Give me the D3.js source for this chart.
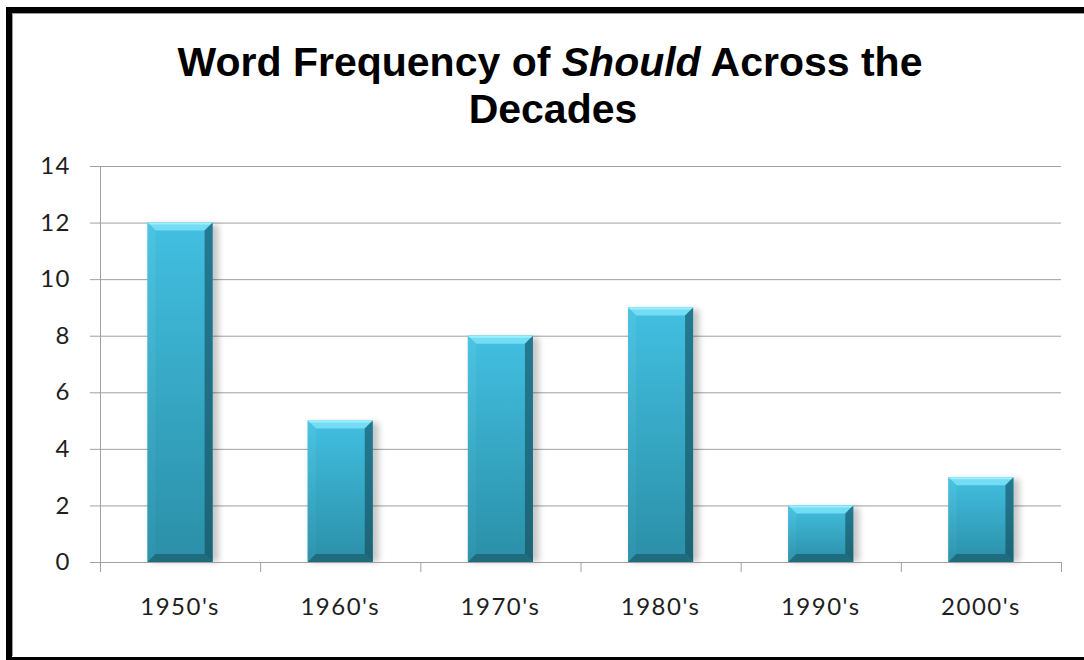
<!DOCTYPE html>
<html>
<head>
<meta charset="utf-8">
<script src="https://cdn.jsdelivr.net/npm/d3@7"></script>
<style>
  html, body { margin: 0; padding: 0; background: #fff; }
  svg { display: block; }
</style>
</head>
<body>
<svg id="chart" width="1084" height="660"></svg>
<script>
// Decades and counts of "should"
const decades = ["1950's", "1960's", "1970's", "1980's", "1990's", "2000's"];
const counts = [12, 5, 8, 9, 2, 3];
const yTicks = [0, 2, 4, 6, 8, 10, 12, 14];

const W = 1084, H = 660;
const margin = { left: 100, right: 23, top: 166, bottom: 98 };
const svg = d3.select("#chart");

// outer frame
svg.append("rect")
  .attr("x", 9).attr("y", 10)
  .attr("width", 1100).attr("height", 650)
  .attr("fill", "#fff")
  .attr("stroke", "#000").attr("stroke-width", 6);
svg.append("line")
  .attr("x1", 12).attr("x2", W).attr("y1", 13.5).attr("y2", 13.5)
  .attr("stroke", "#9a9a9a").attr("stroke-width", 1);
svg.append("line")
  .attr("x1", 12.5).attr("x2", 12.5).attr("y1", 13).attr("y2", 656)
  .attr("stroke", "#9a9a9a").attr("stroke-width", 1);

// title
const title = svg.append("text")
  .attr("text-anchor", "middle")
  .attr("font-family", "'Liberation Sans', Arial, sans-serif")
  .attr("font-weight", "bold")
  .attr("font-size", 41)
  .attr("fill", "#000");
const l1 = title.append("tspan").attr("x", 550).attr("y", 76);
l1.append("tspan").text("Word Frequency of ");
l1.append("tspan").attr("font-style", "italic").text("Should");
l1.append("tspan").text(" Across the");
title.append("tspan").attr("x", 553).attr("y", 123).text("Decades");

const x0 = margin.left, x1 = W - margin.right;
const yTop = margin.top, yBot = H - margin.bottom;

const x = d3.scaleBand().domain(decades).range([x0, x1])
  .paddingInner(0.594).paddingOuter(0.297);
const xEdge = d3.scaleLinear().domain([0, decades.length]).range([x0, x1]);
const y = d3.scaleLinear().domain([0, 14]).range([yBot, yTop]);

const defs = svg.append("defs");
const body = defs.append("linearGradient").attr("id", "barBody")
  .attr("x1", 0).attr("x2", 0).attr("y1", 0).attr("y2", 1);
body.append("stop").attr("offset", "0%").attr("stop-color", "#42bfe1");
body.append("stop").attr("offset", "100%").attr("stop-color", "#2b8fa7");
const side = defs.append("linearGradient").attr("id", "barSide")
  .attr("x1", 0).attr("x2", 0).attr("y1", 0).attr("y2", 1);
side.append("stop").attr("offset", "0%").attr("stop-color", "#237a91");
side.append("stop").attr("offset", "100%").attr("stop-color", "#1c6475");
const lside = defs.append("linearGradient").attr("id", "barLSide")
  .attr("x1", 0).attr("x2", 0).attr("y1", 0).attr("y2", 1);
lside.append("stop").attr("offset", "0%").attr("stop-color", "#4cc4e3");
lside.append("stop").attr("offset", "100%").attr("stop-color", "#2e93ab");
const blur = defs.append("filter").attr("id", "shadow")
  .attr("x", "-20%").attr("y", "-20%").attr("width", "140%").attr("height", "140%");
blur.append("feGaussianBlur").attr("stdDeviation", 3);

const labelFont = "Lato, 'Open Sans', sans-serif";

// horizontal gridlines
const yAxis = d3.axisLeft(y).tickValues(yTicks)
  .tickSize(-(x1 - x0)).tickPadding(29).tickFormat(d3.format("d"));
const gy = svg.append("g").attr("transform", `translate(${x0},0)`).call(yAxis);
gy.select(".domain").remove();
gy.selectAll(".tick line").attr("stroke", "#a0a0a0").attr("x1", -10);
gy.selectAll(".tick text")
  .attr("font-family", labelFont)
  .attr("font-size", 24).attr("letter-spacing", 1.5).attr("fill", "#1e1e1e");

// vertical axis line
svg.append("line").attr("x1", x0 + 0.5).attr("x2", x0 + 0.5)
  .attr("y1", yTop).attr("y2", yBot)
  .attr("stroke", "#a0a0a0");

// bars
const bev = 8;
const bars = svg.append("g").selectAll("g").data(counts).join("g");
bars.each(function (v, i) {
  const g = d3.select(this);
  const bx = x(decades[i]), bw = x.bandwidth();
  const top = y(v), bot = y(0);
  g.append("rect")
    .attr("x", bx + 3).attr("y", top + 2)
    .attr("width", bw + 3).attr("height", bot - top - 2)
    .attr("fill", "#000").attr("opacity", 0.22)
    .attr("filter", "url(#shadow)");
  g.append("rect")
    .attr("x", bx).attr("y", top).attr("width", bw).attr("height", bot - top)
    .attr("fill", "url(#barBody)");
  // top bevel
  g.append("polygon")
    .attr("points", [[bx, top], [bx + bw, top], [bx + bw - bev, top + bev], [bx + bev, top + bev]].join(" "))
    .attr("fill", "#74dcf4");
  g.append("line")
    .attr("x1", bx).attr("x2", bx + bw).attr("y1", top + 1).attr("y2", top + 1)
    .attr("stroke", "#9af0ff").attr("stroke-width", 2);
  // left bevel
  g.append("polygon")
    .attr("points", [[bx, top], [bx + bev, top + bev], [bx + bev, bot - bev], [bx, bot]].join(" "))
    .attr("fill", "url(#barLSide)");
  // right bevel
  g.append("polygon")
    .attr("points", [[bx + bw, top], [bx + bw - bev, top + bev], [bx + bw - bev, bot - bev], [bx + bw, bot]].join(" "))
    .attr("fill", "url(#barSide)");
  // bottom bevel
  g.append("polygon")
    .attr("points", [[bx, bot], [bx + bev, bot - bev], [bx + bw - bev, bot - bev], [bx + bw, bot]].join(" "))
    .attr("fill", "#1f6c7e");
});

// baseline with boundary ticks
const xTickAxis = d3.axisBottom(xEdge).tickValues(d3.range(decades.length + 1))
  .tickSize(10).tickFormat("");
const gx = svg.append("g").attr("transform", `translate(0,${yBot})`).call(xTickAxis);
gx.select(".domain").attr("stroke", "#a0a0a0").attr("d", `M${x0},0.5H${x1}`);
gx.selectAll(".tick line").attr("stroke", "#a0a0a0");

// category labels
const xAxis = d3.axisBottom(x).tickSize(0).tickPadding(36);
const gl = svg.append("g").attr("transform", `translate(0,${yBot})`).call(xAxis);
gl.select(".domain").remove();
gl.selectAll(".tick text")
  .attr("font-family", labelFont)
  .attr("font-size", 24).attr("letter-spacing", 1.5).attr("fill", "#1e1e1e");
</script>
</body>
</html>
